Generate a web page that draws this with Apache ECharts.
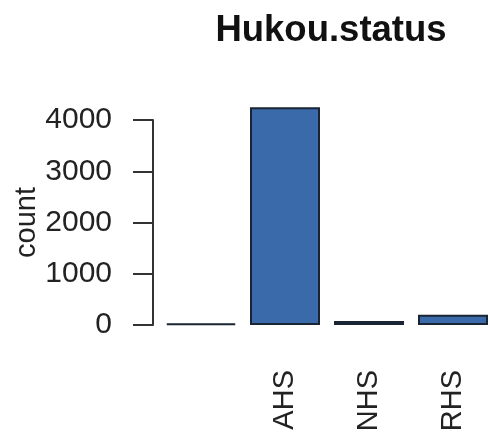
<!DOCTYPE html>
<html>
<head>
<meta charset="utf-8">
<script src="https://cdn.jsdelivr.net/npm/echarts@6/dist/echarts.min.js"></script>
<style>
  html, body { margin: 0; padding: 0; background: #fff; }
  #chart { width: 490px; height: 441px; }
</style>
</head>
<body>
<div id="chart"></div>
<script>
// Hukou.status counts (first level is blank)
const categories = ['', 'AHS', 'NHS', 'RHS'];
const counts = [30, 4250, 80, 200];
const yTicks = [0, 1000, 2000, 3000, 4000];

const chart = echarts.init(document.getElementById('chart'));
const font = 'Liberation Sans, Arial, sans-serif';

chart.setOption({
  animation: false,
  title: {
    text: 'Hukou.status',
    left: 326,
    top: 7,
    textAlign: 'center',
    textStyle: { fontFamily: font, fontSize: 36.5, fontWeight: 'bold', color: '#111' }
  },
  grid: { left: 159, right: -5, top: 120, bottom: 116, outerBoundsMode: 'none', containLabel: false },
  xAxis: {
    type: 'category',
    data: categories,
    axisLine: { show: false },
    axisTick: { show: false },
    axisLabel: {
      rotate: 90,
      margin: 45,
      interval: 0,
      fontFamily: font,
      fontSize: 29,
      color: '#222'
    }
  },
  yAxis: {
    type: 'value',
    min: yTicks[0],
    max: yTicks[yTicks.length - 1],
    interval: 1000,
    offset: 6,
    name: 'count',
    nameLocation: 'middle',
    nameGap: 112,
    nameMoveOverlap: false,
    nameTextStyle: { fontFamily: font, fontSize: 29, color: '#222' },
    splitLine: { show: false },
    axisLine: { show: true, lineStyle: { color: '#333', width: 2 } },
    axisTick: { show: true, length: 20, lineStyle: { color: '#333', width: 2 } },
    axisLabel: {
      margin: 41,
      fontFamily: font,
      fontSize: 30,
      color: '#222',
      formatter: (v) => String(v)
    }
  },
  series: [{
    type: 'bar',
    data: counts,
    barWidth: 70,
    clip: false,
    itemStyle: { color: '#3a6aa9', borderColor: '#1a2433', borderWidth: 2 }
  }]
});
</script>
</body>
</html>
